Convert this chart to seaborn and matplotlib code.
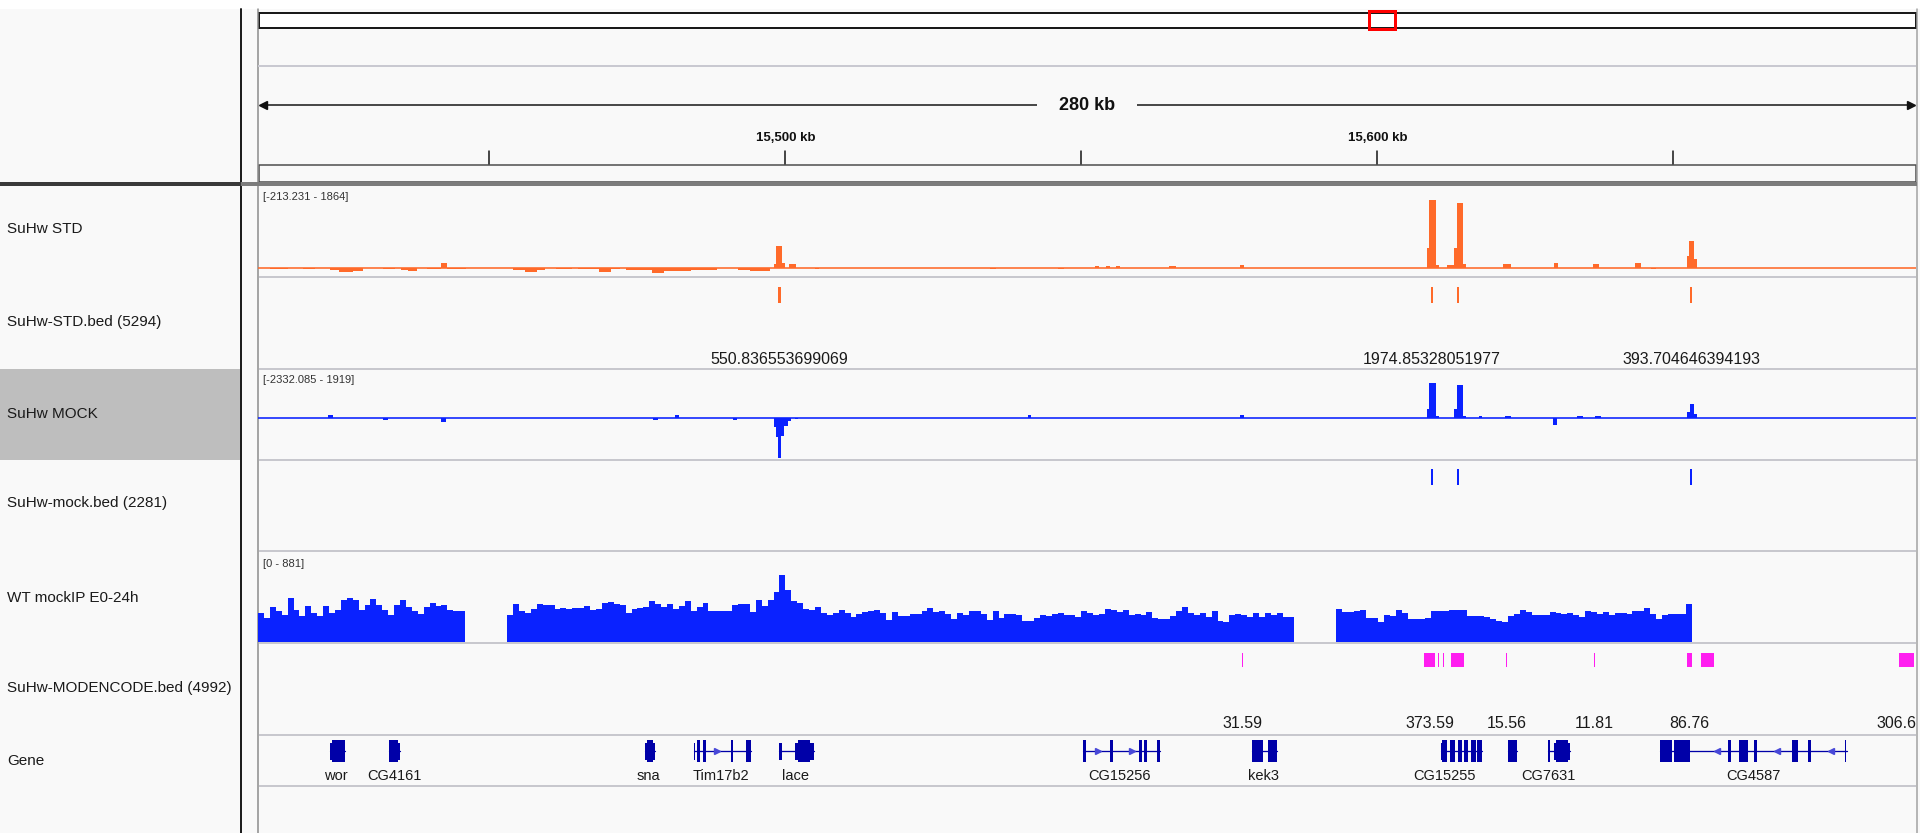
import matplotlib
matplotlib.use("Agg")
import matplotlib.pyplot as plt
from matplotlib.patches import Rectangle
import numpy as np
import pandas as pd
import seaborn as sns

# ---------------- data (positions in kb) ----------------
VIEW = (15410.9, 15691.0)

track_names = ["SuHw STD", "SuHw-STD.bed (5294)", "SuHw MOCK", "SuHw-mock.bed (2281)",
               "WT mockIP E0-24h", "SuHw-MODENCODE.bed (4992)", "Gene"]
track_ranges = ["[-213.231 - 1864]", "[-2332.085 - 1919]", "[0 - 881]"]

ruler_ticks = [15450, 15500, 15550, 15600, 15650]
ruler_labels = ["", "15,500 kb", "", "15,600 kb", ""]
span_label = "280 kb"

# SuHw STD signal
std_start = [15413.0, 15418.5, 15423.0, 15424.5, 15427.0, 15432.0, 15435.0, 15436.2, 15439.5, 15441.8,
             15442.8, 15454.0, 15456.0, 15458.0, 15461.2, 15464.9, 15468.5, 15470.5, 15473.0, 15477.5,
             15479.5, 15484.0, 15492.0, 15494.0, 15498.0, 15498.4, 15499.5, 15500.6, 15505.0, 15534.5,
             15546.0, 15552.3, 15554.2, 15555.9, 15564.8, 15576.8, 15608.4, 15608.8, 15609.9, 15611.8,
             15612.9, 15613.4, 15614.4, 15621.2, 15629.8, 15636.4, 15643.5, 15646.3, 15652.3, 15652.7,
             15653.5]
std_end = [15416.0, 15420.5, 15424.5, 15427.0, 15428.6, 15434.0, 15436.2, 15437.8, 15441.8, 15442.8,
           15446.0, 15456.0, 15458.0, 15459.4, 15463.9, 15468.5, 15470.5, 15472.0, 15477.5, 15479.5,
           15484.0, 15488.4, 15494.0, 15497.4, 15498.4, 15499.5, 15500.0, 15501.8, 15505.6, 15535.5,
           15547.0, 15553.0, 15554.9, 15556.6, 15566.0, 15577.4, 15608.8, 15609.9, 15610.4, 15612.9,
           15613.4, 15614.4, 15614.9, 15622.6, 15630.6, 15637.4, 15644.5, 15647.1, 15652.7, 15653.5,
           15654.0]
std_val = [-40, -30, -60, -110, -70, -40, -50, -70, -40, 115,
           -40, -50, -100, -60, -40, -40, -100, -40, -60, -130,
           -70, -50, -50, -70, 76, 494, 114, 76, -40, -30,
           -30, 30, 30, 30, 30, 60, 460, 1540, 60, 60,
           456, 1466, 76, 76, 114, 76, 114, -40, 266, 600,
           190]

# SuHw MOCK signal
mock_start = [15422.8, 15432.0, 15441.9, 15477.6, 15481.3, 15491.1, 15498.0, 15498.4, 15498.8, 15499.3,
              15499.8, 15500.4, 15501.6, 15540.9, 15576.8, 15608.4, 15608.8, 15609.9, 15612.9, 15613.4,
              15614.4, 15617.1, 15621.5, 15629.6, 15633.8, 15636.7, 15652.3, 15652.8, 15653.5]
mock_end = [15423.6, 15432.8, 15442.7, 15478.4, 15482.1, 15491.9, 15498.4, 15498.8, 15499.3, 15499.8,
            15500.4, 15501.0, 15502.2, 15541.5, 15577.4, 15608.8, 15609.9, 15610.4, 15613.4, 15614.4,
            15614.9, 15617.7, 15622.6, 15630.3, 15634.8, 15637.7, 15652.8, 15653.5, 15654.0]
mock_val = [130, -130, -220, -130, 150, -130, -500, -1050, -2210, -1000,
            -450, -200, -100, 150, 150, 500, 1895, 90, 500, 1800,
            90, 100, 80, -400, 80, 100, 300, 736, 200]

# peak calls
std_bed_start = [15498.7, 15609.0, 15613.4, 15652.8]
std_bed_end = [15499.2, 15609.4, 15613.8, 15653.2]
std_bed_label = ["550.836553699069", "1974.85328051977", "", "393.704646394193"]

mock_bed_start = [15609.0, 15613.4, 15652.8]
mock_bed_end = [15609.4, 15613.8, 15653.2]

# WT mockIP E0-24h coverage, 1 kb bins in three covered blocks
wt_block_start = [15410.9, 15453.0, 15593.1]
wt_block1 = [284, 235, 340, 307, 268, 431, 317, 252, 350, 284, 252, 350, 284, 317, 415, 432, 415, 317,
             366, 425, 360, 317, 268, 366, 409, 343, 307, 275, 340, 383, 350, 366, 317, 307, 301]
wt_block2 = [268, 373, 301, 281, 327, 373, 360, 366, 327, 334, 327, 330, 334, 350, 317, 324, 383, 389,
             373, 366, 284, 327, 334, 347, 399, 373, 340, 373, 327, 350, 399, 307, 340, 383, 307, 307,
             301, 307, 366, 373, 373, 291, 409, 350, 415, 490, 660, 513, 399, 383, 327, 317, 340, 281,
             268, 288, 314, 284, 242, 275, 294, 307, 317, 281, 216, 294, 252, 252, 275, 278, 301, 334,
             294, 301, 278, 229, 284, 268, 307, 301, 275, 219, 301, 235, 278, 275, 262, 203, 203, 235,
             262, 252, 275, 281, 262, 268, 242, 301, 288, 268, 275, 327, 314, 294, 317, 268, 271, 268,
             294, 235, 226, 226, 252, 301, 340, 284, 268, 288, 245, 307, 203, 196, 268, 278, 262, 245,
             281, 242, 281, 262, 281, 249, 242]
wt_block3 = [327, 294, 294, 301, 317, 235, 235, 196, 262, 252, 317, 284, 226, 226, 226, 235, 301, 301,
             301, 314, 311, 314, 252, 258, 258, 245, 226, 209, 196, 252, 275, 317, 294, 268, 268, 262,
             298, 284, 278, 284, 268, 242, 301, 291, 275, 291, 262, 288, 284, 275, 307, 301, 334, 275,
             229, 268, 278, 278, 278, 373]

modencode_start = [15577.1, 15607.9, 15610.25, 15611.1, 15612.5, 15621.7, 15636.6, 15652.3, 15654.7, 15688.1]
modencode_end = [15577.35, 15609.7, 15610.45, 15611.3, 15614.7, 15621.9, 15636.8, 15653.2, 15656.9, 15690.7]
modencode_label = ["31.59", "373.59", "", "", "", "15.56", "11.81", "86.76", "", "306.6"]

gene_names = ["wor", "CG4161", "sna", "Tim17b2", "lace", "CG15256", "kek3", "CG15255", "", "CG7631", "CG4587"]
gene_start = [15423.1, 15433.0, 15476.3, 15484.5, 15499.0, 15550.3, 15578.9, 15610.7, 15622.1, 15628.8, 15647.8]
gene_end = [15425.6, 15434.9, 15477.9, 15494.2, 15504.8, 15563.3, 15583.0, 15617.6, 15623.6, 15632.6, 15679.4]
gene_label_kb = [15424.1, 15433.9, 15476.9, 15489.1, 15501.7, 15556.5, 15580.8, 15611.3, 15622.8, 15628.9, 15663.6]

exon_gene = [0, 0, 1, 1, 2, 2, 2, 3, 3, 3, 3, 3, 4, 4, 4, 4, 5, 5, 5, 5, 5, 6, 6,
             7, 7, 7, 7, 7, 7, 7, 8, 9, 9, 9, 9, 10, 10, 10, 10, 10, 10, 10, 10]
exon_start = [15423.1, 15423.4, 15433.0, 15434.6, 15476.3, 15476.6, 15477.6,
              15484.5, 15485.1, 15486.1, 15490.8, 15493.4,
              15499.0, 15501.7, 15502.2, 15504.2,
              15550.3, 15554.8, 15559.7, 15560.6, 15562.8,
              15578.9, 15581.6,
              15610.7, 15611.0, 15612.3, 15613.7, 15614.7, 15615.9, 15616.9,
              15622.1, 15628.8, 15629.8, 15630.2, 15632.2,
              15647.8, 15650.1, 15659.3, 15661.1, 15663.7, 15670.0, 15672.8, 15679.0]
exon_end = [15423.4, 15425.6, 15434.6, 15434.9, 15476.6, 15477.6, 15477.9,
            15484.8, 15485.6, 15486.5, 15491.2, 15494.2,
            15499.4, 15502.2, 15504.2, 15504.8,
            15550.8, 15555.3, 15560.2, 15561.1, 15563.3,
            15580.6, 15583.0,
            15611.0, 15611.8, 15613.2, 15614.3, 15615.4, 15616.7, 15617.6,
            15623.6, 15629.2, 15630.2, 15632.2, 15632.6,
            15649.8, 15652.8, 15659.7, 15662.7, 15664.1, 15671.0, 15673.2, 15679.25]
exon_coding = [0, 1, 1, 0, 0, 1, 0,
               0, 1, 1, 1, 1,
               0, 0, 1, 0,
               1, 1, 1, 1, 1,
               1, 1,
               0, 1, 1, 1, 1, 1, 1,
               1, 1, 0, 1, 0,
               1, 1, 1, 1, 1, 1, 1, 1]
strand_arrow_kb = [15488.5, 15552.8, 15558.6, 15657.4, 15667.5, 15676.6]
strand_arrow_dir = [">", ">", ">", "<", "<", "<"]

# ---------------- styling / layout ----------------
W, H = 1920, 833
DX0, DX1 = 258, 1916
BG = "#F9F9F9"
ORANGE = "#FF6A2A"
BLUE = "#0A22FF"
MAGENTA = "#FF1EF0"
GENE = "#0000A8"
PX = 0.72  # points per pixel at dpi 100

sns.set_theme(style="white")
plt.rcParams["font.family"] = ["Liberation Sans", "DejaVu Sans"]

fig = plt.figure(figsize=(W / 100, H / 100), dpi=100)
fig.patch.set_facecolor(BG)


def px_axes(x0, y0, x1, y1):
    ax = fig.add_axes([x0 / W, 1 - y1 / H, (x1 - x0) / W, (y1 - y0) / H])
    ax.patch.set_alpha(0)
    ax.set_axis_off()
    return ax


def track_ax(y0, y1, ylim):
    ax = px_axes(DX0, y0, DX1, y1)
    ax.set_xlim(*VIEW)
    ax.set_ylim(*ylim)
    return ax


def hline(ax, y, x0, x1, color, lw):
    ax.plot([x0, x1], [y, y], color=color, lw=lw * PX, solid_capstyle="butt")


# frame, name panel, header
bg = px_axes(0, 0, W, H)
bg.set_xlim(0, W)
bg.set_ylim(H, 0)
bg.add_patch(Rectangle((0, 0), W, 8.5, fc="white", ec="none"))
bg.add_patch(Rectangle((0, 369), 240, 91, fc="#BEBEBE", ec="none"))
bg.plot([241, 241], [8.5, H], color="#1E1E1E", lw=2 * PX)
bg.plot([258, 258], [9, H], color="#8A8A8A", lw=1.5 * PX)
bg.plot([1917, 1917], [9, H], color="#A0A0A0", lw=1.5 * PX)

bg.add_patch(Rectangle((258.5, 12.5), 1657, 15.5, fc="white", ec="#1A1A1A", lw=2 * PX))
bg.add_patch(Rectangle((1369, 10.5), 25.5, 18.5, fc="none", ec="#FF0000", lw=3 * PX))
hline(bg, 66, 258, 1916, "#C9C9D1", 2)

hline(bg, 105, 262, 1912, "#111111", 1.5)
bg.plot([263], [105], marker="<", ms=6, color="#111111")
bg.plot([1911], [105], marker=">", ms=6, color="#111111")
bg.text(1087, 105, span_label, ha="center", va="center", fontsize=13, fontweight="bold",
        color="#111111", bbox=dict(boxstyle="square,pad=1.2", fc=BG, ec="none"))

bg.add_patch(Rectangle((258.5, 164.5), 1657, 17.5, fc=BG, ec="#4A4A4A", lw=1.5 * PX))
hline(bg, 184, 0, 241, "#3A3A3A", 4)
hline(bg, 184, 241, 1917, "#7C7C7C", 4)

for y in [277, 369, 460, 551, 643, 735, 786]:
    hline(bg, y, 259, 1916, "#C8C8CE", 2)

name_y = [229, 322, 414, 503, 598, 688, 761]
for name, yc in zip(track_names, name_y):
    bg.text(7, yc, name, fontsize=11, ha="left", va="center", color="#1A1A1A")

for lab, yc in zip(track_ranges, [197, 380, 564]):
    bg.text(263, yc, lab, fontsize=8, ha="left", va="center", color="#333333")

hdr = px_axes(DX0, 0, DX1, 183)
hdr.set_xlim(*VIEW)
hdr.set_ylim(183, 0)
for t, lab in zip(ruler_ticks, ruler_labels):
    hdr.plot([t, t], [151, 164], color="#111111", lw=1.5 * PX)
    if lab:
        hdr.text(t, 138, lab, ha="center", va="center", fontsize=9.5, fontweight="bold", color="#111111")

# SuHw STD
ax = track_ax(186, 277, (-213.231, 1864))
ax.axhline(0, color=ORANGE, lw=1.6 * PX)
ax.bar(std_start, std_val, width=np.subtract(std_end, std_start), align="edge", color=ORANGE, linewidth=0)

# SuHw-STD.bed
ax = track_ax(277, 369, (369, 277))
ax.bar(std_bed_start, 16, bottom=287, width=np.subtract(std_bed_end, std_bed_start), align="edge",
       color=ORANGE, linewidth=0)
for s, e, lab in zip(std_bed_start, std_bed_end, std_bed_label):
    if lab:
        ax.text((s + e) / 2, 359, lab, ha="center", va="center", fontsize=11.5, color="#1A1A1A")

# SuHw MOCK
ax = track_ax(369, 460, (-2332.085, 2680))
ax.axhline(0, color=BLUE, lw=1.6 * PX)
ax.bar(mock_start, mock_val, width=np.subtract(mock_end, mock_start), align="edge", color=BLUE, linewidth=0)

# SuHw-mock.bed
ax = track_ax(460, 551, (551, 460))
ax.bar(mock_bed_start, 16, bottom=469, width=np.subtract(mock_bed_end, mock_bed_start), align="edge",
       color=BLUE, linewidth=0)

# WT mockIP coverage (weighted histogram, 1 kb bins)
ax = track_ax(552, 642, (0, 881))
for start, vals in zip(wt_block_start, [wt_block1, wt_block2, wt_block3]):
    n = len(vals)
    cov = pd.DataFrame({"mid": start + np.arange(n) + 0.5, "cov": np.asarray(vals, dtype=float)})
    sns.histplot(data=cov, x="mid", weights="cov", bins=n, binrange=(start, start + n),
                 element="step", fill=True, color=BLUE, alpha=1, linewidth=0, ax=ax)
ax.set_xlim(*VIEW)
ax.set_ylim(0, 881)
ax.set_axis_off()

# SuHw-MODENCODE.bed
ax = track_ax(643, 735, (735, 643))
ax.bar(modencode_start, 14, bottom=653, width=np.subtract(modencode_end, modencode_start), align="edge",
       color=MAGENTA, linewidth=0)
for i, (s, e, lab) in enumerate(zip(modencode_start, modencode_end, modencode_label)):
    if not lab:
        continue
    if i == len(modencode_label) - 1:
        # last label sits against the right edge of the window
        ax.text(1.0, 724, lab, ha="right", va="center", fontsize=11.5, color="#1A1A1A",
                transform=ax.get_yaxis_transform())
    else:
        ax.text((s + e) / 2, 724, lab, ha="center", va="center", fontsize=11.5, color="#1A1A1A")

# Gene track
ax = track_ax(735, 786, (786, 735))
for gi, (s, e) in enumerate(zip(gene_start, gene_end)):
    ax.plot([s, e], [751, 751], color=GENE, lw=1.3 * PX)
    if gene_names[gi]:
        ax.text(gene_label_kb[gi], 775.5, gene_names[gi], ha="center", va="center", fontsize=10.5,
                color="#1A1A1A")
for g, s, e, c in zip(exon_gene, exon_start, exon_end, exon_coding):
    half = 11 if c else 8.5
    ax.bar(s, 2 * half, bottom=751 - half, width=e - s, align="edge", color=GENE, linewidth=0)
for x, d in zip(strand_arrow_kb, strand_arrow_dir):
    ax.plot([x], [751], marker=d, ms=4, color="#4848D8", linestyle="none")

fig.savefig("out.png", dpi=100, facecolor=fig.get_facecolor())
